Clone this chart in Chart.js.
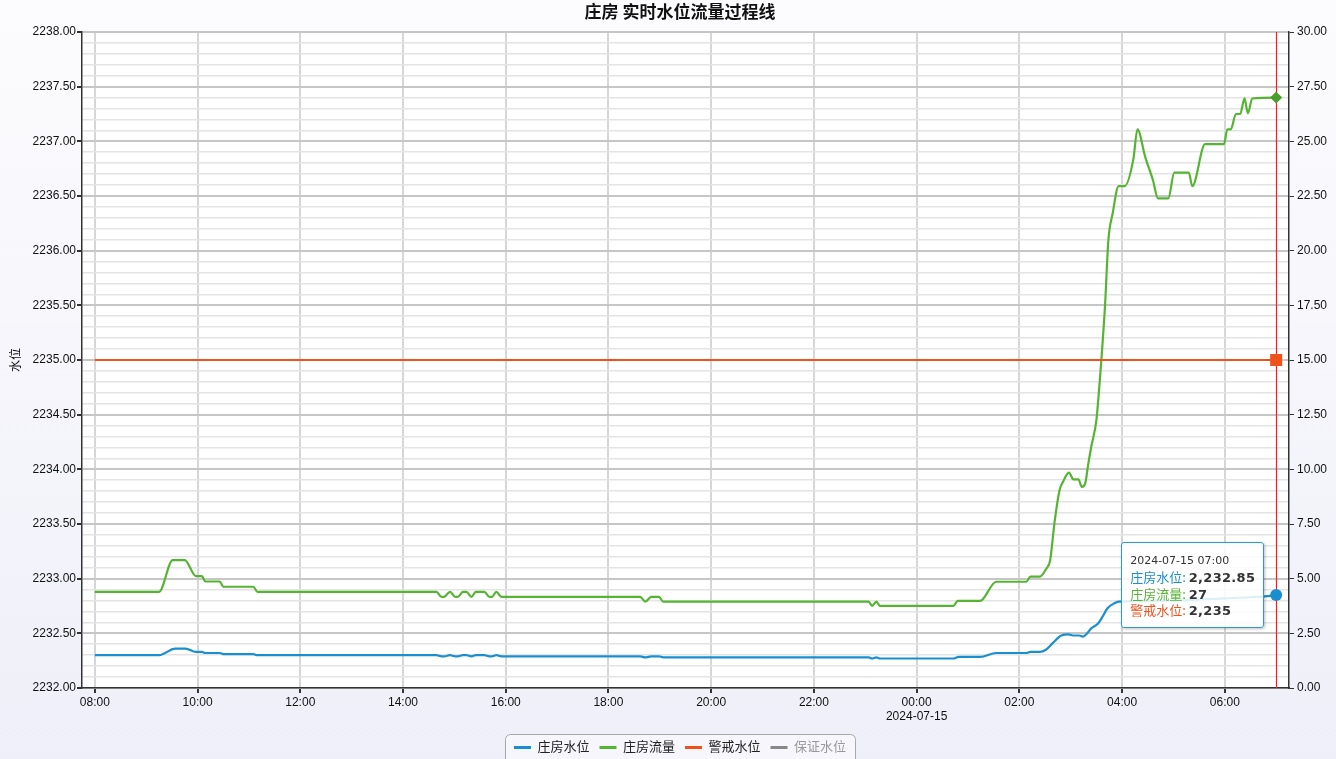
<!DOCTYPE html>
<html lang="zh-CN">
<head>
<meta charset="utf-8">
<title>庄房 实时水位流量过程线</title>
<script src="https://cdn.jsdelivr.net/npm/chart.js@4.4.1/dist/chart.umd.min.js"></script>
<style>
  html, body { margin: 0; padding: 0; background: #f4f4fb; }
  #wrap { position: relative; width: 1336px; height: 759px; overflow: hidden; }
  #tip {
    position: absolute; display: none; box-sizing: border-box;
    padding: 9px 8px 8px 8px;
    background: rgba(255, 255, 255, 0.85);
    border: 1px solid #2a9ad8; border-radius: 3px;
    box-shadow: 1px 1px 3px rgba(0, 0, 0, 0.25);
    font: 13px 'Noto Sans CJK SC', sans-serif; line-height: 16.5px;
    white-space: nowrap; pointer-events: none;
  }
  #tip .t { font: 11px 'DejaVu Sans', sans-serif; color: #333; line-height: 17px; }
  #tip b { font: bold 13px 'DejaVu Sans', sans-serif; color: #333; letter-spacing: 0.3px; }
</style>
</head>
<body>
<div id="wrap">
  <canvas id="chart" width="1336" height="759"></canvas>
  <div id="tip"></div>
</div>
<script>
// données (heure "HH:MM", avant 08:00 = lendemain)
const seriesNames = ["庄房水位", "庄房流量", "警戒水位", "保证水位"];
const seriesColors = ["#1a8fd0", "#55b432", "#f0521c", "#888888"];

const levelTimes = ["08:00", "09:15", "09:34", "09:46", "09:58", "10:05", "10:09", "10:26", "10:30", "11:05",
  "11:10", "14:39", "14:45", "14:48", "14:55", "15:01", "15:04", "15:10", "15:14", "15:20",
  "15:25", "15:35", "15:41", "15:44", "15:49", "15:55", "18:37", "18:43", "18:50", "18:59",
  "19:04", "23:04", "23:08", "23:13", "23:17", "00:43", "00:49", "01:14", "01:33", "02:08",
  "02:13", "02:24", "02:31", "02:39", "02:49", "02:57", "03:04", "03:10", "03:14", "03:18",
  "03:24", "03:32", "03:37", "03:43", "03:51", "03:56", "05:00", "06:00", "06:30", "06:50", "07:00"];
const levelValues = [2232.30, 2232.30, 2232.36, 2232.36, 2232.33, 2232.33, 2232.32, 2232.32, 2232.31, 2232.31,
  2232.30, 2232.30, 2232.29, 2232.29, 2232.30, 2232.29, 2232.29, 2232.30, 2232.30, 2232.29,
  2232.30, 2232.30, 2232.29, 2232.29, 2232.30, 2232.29, 2232.29, 2232.28, 2232.29, 2232.29,
  2232.28, 2232.28, 2232.27, 2232.28, 2232.27, 2232.27, 2232.285, 2232.285, 2232.32, 2232.32,
  2232.33, 2232.33, 2232.35, 2232.41, 2232.48, 2232.49, 2232.48, 2232.48, 2232.47, 2232.49,
  2232.545, 2232.59, 2232.65, 2232.73, 2232.775, 2232.79, 2232.80, 2232.82, 2232.83, 2232.84, 2232.85];

const flowTimes = ["08:00", "09:15", "09:31", "09:45", "09:58", "10:05", "10:09", "10:26", "10:30", "11:05",
  "11:10", "14:39", "14:45", "14:48", "14:55", "15:01", "15:04", "15:10", "15:14", "15:20",
  "15:25", "15:35", "15:41", "15:44", "15:49", "15:55", "18:37", "18:43", "18:50", "18:59",
  "19:04", "23:04", "23:08", "23:13", "23:17", "00:43", "00:48", "01:14", "01:33", "02:08",
  "02:13", "02:24", "02:31", "02:36", "02:41", "02:47", "02:51", "02:58", "03:03", "03:09",
  "03:13", "03:17", "03:20", "03:24", "03:30", "03:34", "03:40", "03:44", "03:49", "03:56",
  "04:03", "04:13", "04:18", "04:27", "04:36", "04:42", "04:54", "05:01", "05:18", "05:22",
  "05:37", "05:59", "06:03", "06:07", "06:13", "06:18", "06:23", "06:27", "06:32", "07:00"];
const flowValues = [4.4, 4.4, 5.85, 5.85, 5.12, 5.12, 4.87, 4.87, 4.63, 4.63,
  4.4, 4.4, 4.17, 4.17, 4.4, 4.17, 4.17, 4.4, 4.4, 4.17,
  4.4, 4.4, 4.17, 4.17, 4.4, 4.17, 4.17, 3.95, 4.17, 4.17,
  3.95, 3.95, 3.76, 3.95, 3.76, 3.76, 3.98, 3.98, 4.86, 4.86,
  5.09, 5.09, 5.43, 5.85, 7.54, 9.05, 9.43, 9.85, 9.54, 9.54,
  9.2, 9.36, 10.12, 11.03, 12.25, 14.08, 17.43, 20.48, 21.7, 22.95,
  22.95, 24.14, 25.55, 24.29, 23.23, 22.39, 22.39, 23.57, 23.57, 22.95,
  24.87, 24.87, 25.55, 25.55, 26.25, 26.25, 26.96, 26.28, 26.96, 27];

const warnTimes = ["08:00", "07:00"];
const warnValues = [2235, 2235];

const xTickTimes = ["08:00", "10:00", "12:00", "14:00", "16:00", "18:00", "20:00", "22:00", "00:00", "02:00", "04:00", "06:00"];
const nextDay = "2024-07-15";
const cursorTime = "07:00";
const xMin = 7.75;   // 07:45 le 14
const xMax = 31.25;  // 07:15 le 15

// heures depuis le 14/07 00:00
function toHours(t) {
  const [h, m] = t.split(":").map(Number);
  return (h < 8 ? h + 24 : h) + m / 60;
}
function hhmm(v) {
  const tot = Math.round(v * 60) % (24 * 60);
  const h = Math.floor(tot / 60), m = tot % 60;
  return String(h).padStart(2, "0") + ":" + String(m).padStart(2, "0");
}
function pts(times, values) {
  return times.map((t, i) => ({ x: toHours(t), y: values[i] }));
}
const isMajor = (v, step) => Math.abs(v / step - Math.round(v / step)) < 1e-6;
const FONT = "'Liberation Sans', 'Noto Sans CJK SC', sans-serif";

Chart.defaults.font.family = FONT;
Chart.defaults.color = "#111";

// décalage de la légende (centrée comme le titre)
const LEGEND_DX = 12, LEGEND_DY = 5;

const backgroundPlugin = {
  id: "bg",
  afterLayout(chart) {
    const lg = chart.legend;
    lg.left += LEGEND_DX;
    lg.right += LEGEND_DX;
    lg.top += LEGEND_DY;
    lg.bottom += LEGEND_DY;
  },
  beforeDraw(chart) {
    const { ctx, chartArea: a, width, height } = chart;
    ctx.save();
    const g = ctx.createLinearGradient(0, 0, 0, height);
    g.addColorStop(0, "#fcfcfe");
    g.addColorStop(1, "#efeff9");
    ctx.fillStyle = g;
    ctx.fillRect(0, 0, width, height);
    ctx.fillStyle = "#ffffff";
    ctx.fillRect(a.left, a.top, a.right - a.left, a.bottom - a.top);

    // cadre de la légende
    const lg = chart.legend;
    const boxes = lg.legendHitBoxes;
    if (boxes && boxes.length) {
      const w = Math.max(...boxes.map(b => b.left + b.width)) - Math.min(...boxes.map(b => b.left)) + 18;
      const cx = (lg.left + lg.right) / 2;
      const t = lg.top + 10 - 7;
      ctx.beginPath();
      ctx.roundRect(Math.round(cx - w / 2) + 0.5, t + 0.5, w, height - t + 10, 5);
      ctx.fillStyle = "#f6f6fc";
      ctx.fill();
      ctx.strokeStyle = "#a8a8a8";
      ctx.lineWidth = 1;
      ctx.stroke();
    }
    ctx.restore();
  },
  beforeDatasetsDraw(chart) {
    // ligne rouge du curseur
    const { ctx, chartArea: a } = chart;
    const x = Math.round(chart.scales.x.getPixelForValue(toHours(cursorTime))) + 0.5;
    ctx.save();
    ctx.strokeStyle = "#ff1a1a";
    ctx.lineWidth = 1.2;
    ctx.beginPath();
    ctx.moveTo(x, a.top);
    ctx.lineTo(x, a.bottom);
    ctx.stroke();
    ctx.restore();
  },
  afterDraw(chart) {
    const { ctx } = chart;
    ctx.save();
    ctx.font = "bold 17px 'Noto Sans CJK SC', sans-serif";
    ctx.fillStyle = "#111";
    ctx.textAlign = "center";
    ctx.textBaseline = "middle";
    ctx.fillText("庄房 实时水位流量过程线", 680, 12);
    ctx.restore();
  }
};

function fmt(v) {
  return v.toLocaleString("en-US", { maximumFractionDigits: 2 });
}

function externalTip(context) {
  const tip = document.getElementById("tip");
  const model = context.tooltip;
  if (model.opacity === 0 || !model.dataPoints || !model.dataPoints.length) {
    tip.style.display = "none";
    return;
  }
  const list = model.dataPoints.slice().sort((a, b) => a.datasetIndex - b.datasetIndex);
  let html = '<div class="t">' + nextDay + " " + hhmm(list[0].parsed.x) + "</div>";
  list.forEach(p => {
    html += '<div><span style="color:' + p.dataset.borderColor + '">' + p.dataset.label +
      ":</span> <b>" + fmt(p.parsed.y) + "</b></div>";
  });
  tip.innerHTML = html;
  tip.style.display = "block";
  const chart = context.chart;
  const px = chart.scales.x.getPixelForValue(list[0].parsed.x);
  const py = chart.scales.y.getPixelForValue(levelValues[levelValues.length - 1]);
  tip.style.left = (px - tip.offsetWidth - 12) + "px";
  tip.style.top = (py - 53) + "px";
}

const chart = new Chart(document.getElementById("chart"), {
  type: "line",
  data: {
    datasets: [
      {
        label: seriesNames[0], data: pts(levelTimes, levelValues), yAxisID: "y",
        borderColor: seriesColors[0], backgroundColor: seriesColors[0],
        pointHoverBackgroundColor: seriesColors[0],
        pointStyle: "circle", pointHoverRadius: 6
      },
      {
        label: seriesNames[1], data: pts(flowTimes, flowValues), yAxisID: "y1",
        borderColor: seriesColors[1], backgroundColor: seriesColors[1],
        pointHoverBackgroundColor: "#4c9e2c",
        pointStyle: "rectRot", pointHoverRadius: 6
      },
      {
        label: seriesNames[2], data: pts(warnTimes, warnValues), yAxisID: "y", order: -1,
        borderColor: seriesColors[2], backgroundColor: seriesColors[2],
        pointHoverBackgroundColor: seriesColors[2],
        pointStyle: "rect", pointHoverRadius: 8.5
      },
      {
        label: seriesNames[3], data: [], yAxisID: "y", hidden: true,
        borderColor: seriesColors[3], backgroundColor: seriesColors[3]
      }
    ]
  },
  options: {
    responsive: false,
    animation: false,
    events: [],
    layout: { padding: { top: 32, left: 0, right: 0, bottom: 0 } },
    elements: {
      line: { borderWidth: 2.2, cubicInterpolationMode: "monotone" },
      point: { radius: 0, hoverBorderWidth: 0, borderWidth: 0 }
    },
    plugins: {
      title: { display: false },
      legend: {
        position: "bottom",
        labels: {
          boxWidth: 17, boxHeight: 3, padding: 10,
          font: { size: 13, family: FONT },
          generateLabels(chart) {
            return chart.data.datasets.map((ds, i) => ({
              text: ds.label,
              fillStyle: ds.borderColor,
              strokeStyle: ds.borderColor,
              lineWidth: 0,
              hidden: false,
              fontColor: ds.hidden ? "#999" : "#222",
              datasetIndex: i
            }));
          }
        }
      },
      tooltip: { enabled: false, mode: "x", intersect: false, external: externalTip }
    },
    scales: {
      x: {
        type: "linear",
        min: xMin, max: xMax,
        afterBuildTicks: s => { s.ticks = xTickTimes.map(t => ({ value: toHours(t) })); },
        afterFit: s => { s.height = 38; },
        ticks: {
          autoSkip: false, maxRotation: 0, padding: 2,
          font: { size: 12 }, color: "#111",
          callback: v => (hhmm(v) === "00:00" ? ["00:00", nextDay] : hhmm(v))
        },
        grid: { color: "#d6d6d6", lineWidth: 2, tickColor: "#333", tickLength: 5 },
        border: { color: "#333", width: 1.5 }
      },
      y: {
        position: "left",
        min: 2232, max: 2238,
        afterFit: s => { s.width = 82; },
        title: { display: true, text: "水位", font: { size: 12 }, color: "#111", padding: { top: 9, bottom: 0 } },
        ticks: {
          stepSize: 0.1, autoSkip: false, padding: 1,
          font: { size: 12 }, color: "#111",
          callback: v => (isMajor(v, 0.5) ? v.toFixed(2) : "")
        },
        grid: {
          color: c => (isMajor(c.tick.value, 0.5) ? "#c6c6c6" : "#e4e4e4"),
          lineWidth: c => (isMajor(c.tick.value, 0.5) ? 2 : 1.6),
          tickColor: c => (isMajor(c.tick.value, 0.5) ? "#333" : "rgba(0,0,0,0)"),
          tickLength: 5
        },
        border: { color: "#333", width: 1.5 }
      },
      y1: {
        position: "right",
        min: 0, max: 30,
        afterFit: s => { s.width = 47; },
        ticks: {
          stepSize: 0.5, autoSkip: false, padding: 3,
          font: { size: 12 }, color: "#111",
          callback: v => (isMajor(v, 2.5) ? v.toFixed(2) : "")
        },
        grid: {
          drawOnChartArea: false,
          tickColor: c => (isMajor(c.tick.value, 2.5) ? "#333" : "rgba(0,0,0,0)"),
          tickLength: 5
        },
        border: { color: "#333", width: 1.5 }
      }
    }
  },
  plugins: [backgroundPlugin]
});

// point survolé : 07:00
const active = [
  { datasetIndex: 0, index: levelTimes.length - 1 },
  { datasetIndex: 1, index: flowTimes.length - 1 },
  { datasetIndex: 2, index: warnTimes.length - 1 }
];
const ax = chart.scales.x.getPixelForValue(toHours(cursorTime));
const ay = chart.scales.y.getPixelForValue(levelValues[levelValues.length - 1]);
chart.setActiveElements(active);
chart.tooltip.setActiveElements(active, { x: ax, y: ay });
chart.update("none");
</script>
</body>
</html>
